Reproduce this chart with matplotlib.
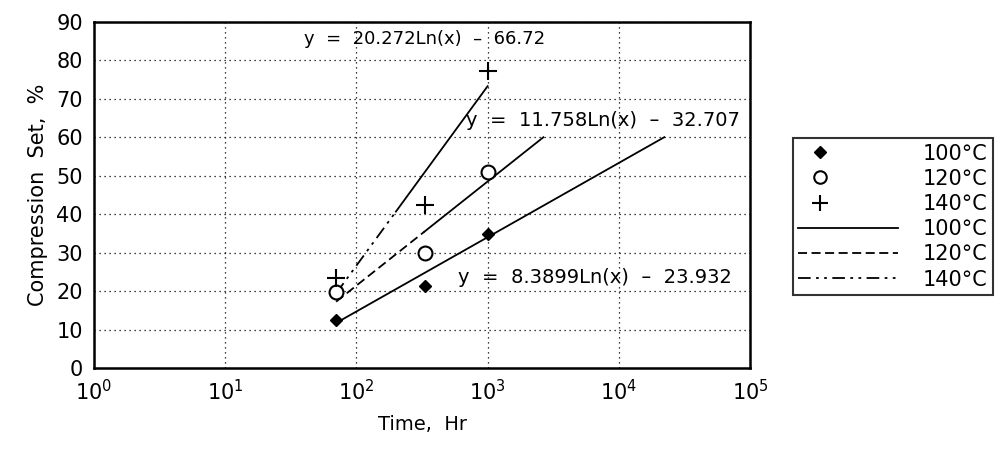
import numpy as np
import matplotlib
matplotlib.use("Agg")
import matplotlib.pyplot as plt
from matplotlib.legend_handler import HandlerLine2D

# measured points (time in hr, compression set in %)
hours = [70, 336, 1000]
set_100 = [12.5, 21.3, 34.8]
set_120 = [19.8, 29.9, 51.0]
set_140 = [23.5, 42.3, 77.3]

# log fits  y = a*Ln(x) + b, drawn from x_start to x_end, dashed up to x_split
fit_a = [8.3899, 11.758, 20.272]
fit_b = [-23.932, -32.707, -66.72]
fit_start = [70, 70, 70]
fit_split = [70, 330, 200]
fit_end = [22200, 2660, 1000]
fit_labels = ["y  =  8.3899Ln(x)  \u2013  23.932", "y  =  11.758Ln(x)  \u2013  32.707", "y  =  20.272Ln(x)  \u2013  66.72"]
fit_text_xy = [(590, 23.5), (680, 64.5), (40, 85.5)]
fit_size = [14, 14, 13]
temps = ["100\u00b0C", "120\u00b0C", "140\u00b0C"]


class LeftMarker(HandlerLine2D):
    # put the marker near the left of the legend handle
    def get_xdata(self, legend, xdescent, ydescent, width, height, fontsize):
        x = width * 0.22 - xdescent
        return np.array([x]), np.array([x])


plt.rcParams['font.family'] = ['DejaVu Sans']
fig = plt.figure(figsize=(9.97, 4.61), dpi=100)
ax = fig.add_axes([0.0943, 0.2017, 0.6580, 0.7506])

dashes = [None, (5, 2.5), (7, 3, 1.5, 3, 1.5, 3)]

for a, b, s, m, e, lab, (tx, ty), d, fs in zip(fit_a, fit_b, fit_start, fit_split, fit_end,
                                               fit_labels, fit_text_xy, dashes, fit_size):
    x1 = np.geomspace(s, m, 50)
    x2 = np.geomspace(m, e, 100)
    if d is not None:
        ax.plot(x1, a * np.log(x1) + b, color="black", lw=1.3, dashes=d)
    ax.plot(x2, a * np.log(x2) + b, color="black", lw=1.3)
    ax.text(tx, ty, lab, fontsize=fs, va="center", ha="left")

ax.plot(hours, set_100, "D", color="black", ms=6, ls="none")
ax.plot(hours, set_120, "o", mfc="white", mec="black", mew=1.5, ms=10, ls="none")
ax.plot(hours, set_140, "+", color="black", mew=1.5, ms=13, ls="none")

ax.set_xscale("log")
ax.set_xlim(1, 1e5)
ax.set_ylim(0, 90)
ax.set_yticks(range(0, 91, 10))
ax.set_xticks([1, 10, 100, 1000, 1e4, 1e5])
ax.xaxis.set_minor_locator(matplotlib.ticker.NullLocator())
ax.tick_params(length=0, labelsize=15, pad=8)
ax.grid(True, color="black", ls=(0, (1, 3)), lw=0.9)
for sp in ax.spines.values():
    sp.set_linewidth(1.8)
ax.set_xlabel("Time,  Hr", fontsize=14, labelpad=8)
ax.set_ylabel("Compression  Set,  %", fontsize=15, labelpad=6)

# legend
h = []
h.append(plt.Line2D([], [], marker="D", color="black", ls="none", ms=6))
h.append(plt.Line2D([], [], marker="o", mfc="white", mec="black", mew=1.5, ls="none", ms=9))
h.append(plt.Line2D([], [], marker="+", color="black", mew=1.5, ls="none", ms=11))
h.append(plt.Line2D([], [], color="black", lw=1.3))
h.append(plt.Line2D([], [], color="black", lw=1.3, dashes=dashes[1]))
h.append(plt.Line2D([], [], color="black", lw=1.3, dashes=dashes[2]))
hmap = {hh: LeftMarker() for hh in h[:3]}
leg = fig.legend(h, temps + temps, loc="upper left", bbox_to_anchor=(0.795, 0.70),
                 fontsize=15, frameon=True, fancybox=False, handlelength=4.8,
                 labelspacing=0.25, borderpad=0.25, handletextpad=1.2, borderaxespad=0,
                 handler_map=hmap)
leg.get_frame().set_edgecolor("black")
leg.get_frame().set_linewidth(1.5)

fig.savefig("out.png", dpi=100)
